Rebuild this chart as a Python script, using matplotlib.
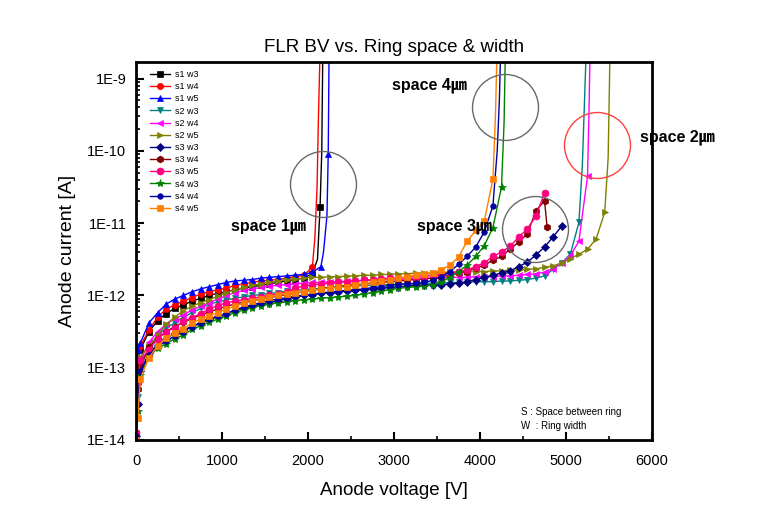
import matplotlib
matplotlib.use('Agg')
import matplotlib.pyplot as plt
from matplotlib.ticker import FuncFormatter, MultipleLocator, LogLocator
import numpy as np

plt.rcParams['font.family'] = ['Liberation Sans', 'Noto Sans CJK KR', 'DejaVu Sans']

# measured voltage steps [V]
v_grid = [0, 20, 50, 150, 250, 350, 450, 550, 650, 750, 850, 950, 1050, 1150,
          1250, 1350, 1450, 1550, 1650, 1750, 1850, 1950, 2050, 2150, 2250,
          2350, 2450, 2550, 2650, 2750, 2850, 2950, 3050, 3150, 3250, 3350,
          3450, 3550, 3650, 3750, 3850, 3950, 4050, 4150, 4250, 4350, 4450,
          4550, 4650, 4750, 4850, 4950, 5050, 5150, 5250, 5350, 5450]

# log10 of anode current, on v_grid then on the breakdown tail voltages
s1w3 = [-14.0, -12.9, -12.75, -12.5, -12.35, -12.25, -12.18, -12.13, -12.08, -12.04,
        -12.0, -11.97, -11.95, -11.92, -11.9, -11.88, -11.86, -11.84, -11.82, -11.8,
        -11.78, -11.76, -11.7,
        -11.5, -10.78, -10.0, -8.6]
s1w3_tail = [2110, 2140, 2160, 2172]

s1w4 = [-13.95, -12.75, -12.7, -12.48, -12.3, -12.19, -12.13, -12.08, -12.03, -11.98,
        -11.95, -11.92, -11.9, -11.86, -11.84, -11.82, -11.8, -11.79, -11.78, -11.76,
        -11.74, -11.72, -11.61,
        -11.2, -10.5, -9.6, -8.6]
s1w4_tail = [2080, 2105, 2120, 2140]

s1w5 = [-13.9, -12.75, -12.66, -12.38, -12.24, -12.12, -12.05, -12.0, -11.95, -11.91,
        -11.88, -11.85, -11.82, -11.8, -11.79, -11.78, -11.76, -11.75, -11.74, -11.73,
        -11.72, -11.71, -11.68, -11.6,
        -11.4, -10.9, -10.04, -8.6]
s1w5_tail = [2180, 2220, 2235, 2245]

s2w3 = [-13.95, -13.4, -13.0, -12.72, -12.55, -12.45, -12.38, -12.3, -12.24, -12.18,
        -12.12, -12.09, -12.06, -12.04, -12.02, -12.0, -11.99, -11.97, -11.96, -11.94,
        -11.93, -11.92, -11.91, -11.9, -11.89, -11.88, -11.87, -11.87, -11.86, -11.86,
        -11.85, -11.85, -11.84, -11.84, -11.84, -11.83, -11.83, -11.83, -11.82, -11.82,
        -11.82, -11.81, -11.81, -11.81, -11.8, -11.8, -11.79, -11.78, -11.76, -11.73,
        -11.64, -11.55, -11.43, -10.99,
        -10.2, -8.6]
s2w3_tail = [5190, 5235]

s2w4 = [-13.9, -13.2, -12.9, -12.65, -12.5, -12.4, -12.32, -12.27, -12.2, -12.15,
        -12.1, -12.05, -12.0, -11.96, -11.93, -11.91, -11.89, -11.87, -11.86, -11.85,
        -11.84, -11.83, -11.82, -11.82, -11.81, -11.81, -11.8, -11.8, -11.79, -11.79,
        -11.78, -11.78, -11.78, -11.77, -11.77, -11.76, -11.76, -11.76, -11.75, -11.75,
        -11.75, -11.74, -11.74, -11.74, -11.73, -11.73, -11.72, -11.71, -11.7, -11.68,
        -11.63, -11.55, -11.45, -11.25, -10.35,
        -9.6, -8.6]
s2w4_tail = [5265, 5280]

s2w5 = [-13.9, -13.03, -12.85, -12.7, -12.55, -12.4, -12.3, -12.21, -12.15, -12.1,
        -12.06, -12.01, -11.96, -11.92, -11.89, -11.86, -11.84, -11.82, -11.8, -11.78,
        -11.77, -11.76, -11.75, -11.75, -11.74, -11.74, -11.73, -11.73, -11.72, -11.72,
        -11.71, -11.71, -11.7, -11.7, -11.69, -11.69, -11.69, -11.68, -11.68, -11.68,
        -11.67, -11.67, -11.67, -11.66, -11.66, -11.65, -11.65, -11.64, -11.63, -11.61,
        -11.59, -11.55, -11.49, -11.43, -11.36, -11.22, -10.85,
        -10.1, -8.6]
s2w5_tail = [5490, 5512]

s3w3 = [-13.95, -13.5, -13.05, -12.8, -12.68, -12.6, -12.52, -12.48, -12.43, -12.38,
        -12.33, -12.29, -12.25, -12.21, -12.18, -12.15, -12.12, -12.1, -12.07, -12.05,
        -12.02, -12.0, -11.99, -11.97, -11.96, -11.95, -11.94, -11.93, -11.92, -11.91,
        -11.9, -11.89, -11.88, -11.87, -11.86, -11.86, -11.85, -11.85, -11.84, -11.83,
        -11.81, -11.78, -11.75, -11.72, -11.69, -11.66, -11.6, -11.54, -11.44, -11.33,
        -11.19, -11.04]
s3w3_tail = []

s3w4 = [-13.9, -13.3, -12.98, -12.72, -12.6, -12.5, -12.43, -12.37, -12.32, -12.27,
        -12.23, -12.19, -12.15, -12.12, -12.09, -12.07, -12.05, -12.03, -12.01, -11.99,
        -11.97, -11.95, -11.93, -11.91, -11.89, -11.88, -11.86, -11.85, -11.84, -11.83,
        -11.82, -11.81, -11.8, -11.79, -11.78, -11.77, -11.76, -11.74, -11.72, -11.69,
        -11.67, -11.62, -11.58, -11.51, -11.46, -11.36, -11.26, -11.15, -10.83, -10.69,
        -11.05]
s3w4_tail = [4780]

s3w5 = [-13.9, -13.2, -12.9, -12.75, -12.6, -12.5, -12.45, -12.36, -12.31, -12.25,
        -12.19, -12.14, -12.1, -12.08, -12.06, -12.04, -12.02, -12.0, -11.98, -11.95,
        -11.9, -11.87, -11.85, -11.84, -11.83, -11.82, -11.81, -11.8, -11.79, -11.78,
        -11.77, -11.76, -11.76, -11.75, -11.74, -11.73, -11.72, -11.71, -11.69, -11.67,
        -11.65, -11.6, -11.55, -11.46, -11.4, -11.32, -11.19, -11.08, -10.9, -10.58]
s3w5_tail = []

s4w3 = [-14.0, -13.6, -13.1, -12.85, -12.73, -12.67, -12.6, -12.55, -12.47, -12.42,
        -12.37, -12.33, -12.28, -12.24, -12.2, -12.17, -12.14, -12.12, -12.1, -12.09,
        -12.07, -12.06, -12.05, -12.04, -12.03, -12.02, -12.01, -12.0, -11.98, -11.96,
        -11.94, -11.92, -11.9, -11.89, -11.88, -11.87, -11.85, -11.81, -11.75, -11.67,
        -11.58, -11.46, -11.31, -11.06, -10.5,
        -9.6, -8.6]
s4w3_tail = [4280, 4295]

s4w4 = [-13.95, -13.5, -13.05, -12.82, -12.7, -12.63, -12.56, -12.5, -12.43, -12.38,
        -12.33, -12.29, -12.25, -12.2, -12.16, -12.13, -12.1, -12.07, -12.05, -12.03,
        -12.01, -12.0, -11.98, -11.97, -11.95, -11.94, -11.93, -11.92, -11.91, -11.89,
        -11.88, -11.86, -11.85, -11.84, -11.83, -11.82, -11.79, -11.74, -11.67, -11.57,
        -11.46, -11.33, -11.12, -10.76,
        -10.0, -9.3, -8.6]
s4w4_tail = [4200, 4225, 4240]

s4w5 = [-14.0, -13.7, -13.15, -12.86, -12.7, -12.59, -12.52, -12.46, -12.38, -12.33,
        -12.28, -12.24, -12.19, -12.15, -12.11, -12.08, -12.05, -12.02, -12.0, -11.98,
        -11.96, -11.95, -11.93, -11.91, -11.9, -11.89, -11.88, -11.86, -11.84, -11.82,
        -11.8, -11.78, -11.76, -11.74, -11.72, -11.71, -11.69, -11.65, -11.58, -11.47,
        -11.25, -11.1, -10.97, -10.39,
        -9.5, -8.6]
s4w5_tail = [4180, 4198]

# tail points that carry a marker in the original plot
tail_marked = {'s1 w3': [2140], 's1 w5': [2235], 's3 w4': [4780]}

series = [
    ('s1 w3', s1w3, s1w3_tail, 'black', 's', 4.5),
    ('s1 w4', s1w4, s1w4_tail, '#FF0000', 'o', 4.5),
    ('s1 w5', s1w5, s1w5_tail, '#0000FF', '^', 5),
    ('s2 w3', s2w3, s2w3_tail, '#008080', 'v', 5),
    ('s2 w4', s2w4, s2w4_tail, '#FF00FF', '<', 5),
    ('s2 w5', s2w5, s2w5_tail, '#808000', '>', 5),
    ('s3 w3', s3w3, s3w3_tail, '#000080', 'D', 4),
    ('s3 w4', s3w4, s3w4_tail, '#800000', 'h', 5),
    ('s3 w5', s3w5, s3w5_tail, '#FF0080', 'o', 5),
    ('s4 w3', s4w3, s4w3_tail, '#008000', '*', 6),
    ('s4 w4', s4w4, s4w4_tail, '#0000A0', 'o', 4),
    ('s4 w5', s4w5, s4w5_tail, '#FF8000', 's', 4.5),
]

fig = plt.figure(figsize=(7.57, 5.31), dpi=100)
ax = fig.add_axes([0.1797, 0.1714, 0.6816, 0.7119])

for name, logi, tail, col, mk, ms in series:
    n = len(logi) - len(tail)
    volts = v_grid[:n] + tail
    cur = 10 ** np.array(logi)
    marks = list(range(n)) + [n + tail.index(t) for t in tail_marked.get(name, [])]
    ax.plot(volts, cur, color=col, marker=mk, ms=ms, lw=1, label=name,
            markeredgewidth=0.5, markevery=marks)

ax.set_yscale('log')
ax.set_xlim(0, 6000)
ax.set_ylim(1e-14, 1.7e-9)

ax.xaxis.set_major_locator(MultipleLocator(1000))
ax.xaxis.set_minor_locator(MultipleLocator(500))
ax.yaxis.set_major_locator(LogLocator(base=10))
ax.yaxis.set_minor_locator(LogLocator(base=10, subs=np.arange(2, 10)))
ax.yaxis.set_major_formatter(FuncFormatter(lambda y, p: '1E%d' % round(np.log10(y))))
ax.yaxis.set_minor_formatter(FuncFormatter(lambda y, p: ''))
ax.tick_params(which='both', direction='in', top=False, right=False, labelsize=10.5)
ax.tick_params(which='major', length=6, width=1.5)
ax.tick_params(which='minor', length=3, width=1.2)
ax.tick_params(axis='x', which='major', pad=10)
ax.tick_params(axis='y', which='major', pad=7)
for sp in ax.spines.values():
    sp.set_linewidth(2)

ax.set_xlabel('Anode voltage [V]', fontsize=13.5, labelpad=10)
ax.set_ylabel('Anode current [A]', fontsize=14, labelpad=8)
ax.set_title('FLR BV vs. Ring space & width', fontsize=13.5, pad=7)

leg = ax.legend(loc='upper left', bbox_to_anchor=(0.012, 1.0), frameon=False,
                fontsize=6.5, labelspacing=0.35, handlelength=2.2,
                handletextpad=0.5, borderaxespad=0.5)

# circles around breakdown groups
circles = [(2174, 3.5e-11, 'dimgray'), (4291, 4.0e-10, 'dimgray'),
           (5360, 1.2e-10, '#FF4040'), (4640, 8.3e-12, 'dimgray')]
for cx, cy, cc in circles:
    ax.plot([cx], [cy], 'o', ms=47.5, mfc='none', mec=cc, mew=1)

labels = [(1105, 9.1e-12, 'space 1㎛'), (2977, 8.1e-10, 'space 4㎛'),
          (3263, 9.1e-12, 'space 3㎛'), (5860, 1.55e-10, 'space 2㎛')]
for lx, ly, txt in labels:
    ax.text(lx, ly, txt, fontsize=11.5, fontweight='bold', va='center',
            ha='left', clip_on=False)

ax.text(4477, 2.45e-14, 'S : Space between ring', fontsize=7, ha='left', va='center')
ax.text(4477, 1.56e-14, 'W  : Ring width', fontsize=7, ha='left', va='center')

fig.savefig('out.png', dpi=100)
